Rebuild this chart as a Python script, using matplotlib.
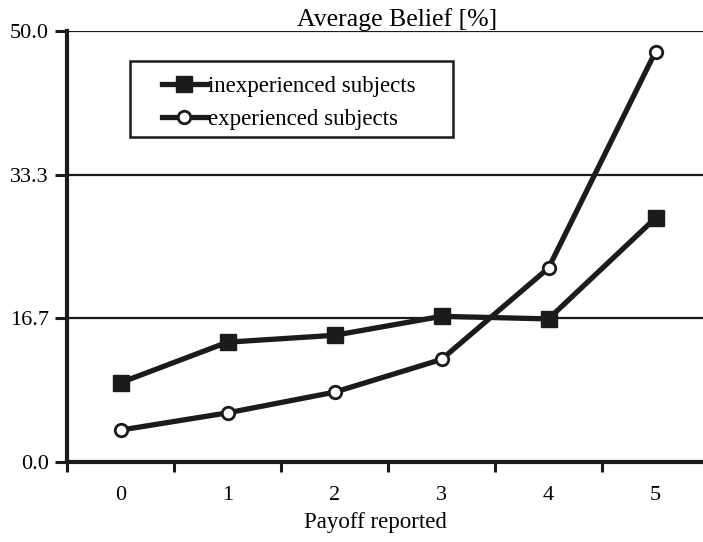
import matplotlib.pyplot as plt
from matplotlib.patches import Rectangle
from matplotlib.ticker import FixedLocator

payoffs = ["0", "1", "2", "3", "4", "5"]
inexperienced = [9.2, 13.9, 14.7, 16.9, 16.6, 28.3]
experienced = [3.7, 5.7, 8.1, 11.9, 22.5, 47.6]
y_ticks = [0.0, 50 / 3, 100 / 3, 50.0]
y_labels = ["0.0", "16.7", "33.3", "50.0"]

INK = "#1c1a1a"
W, H = 703, 542

plt.rcParams['font.family'] = ['Liberation Serif', 'DejaVu Serif']

fig = plt.figure(figsize=(W / 100, H / 100), dpi=100)
ax = fig.add_axes([67 / W, 1 - 462 / H, (709 - 67) / W, (462 - 31) / H])

x = list(range(len(payoffs)))

# horizontal grid lines
for yv in y_ticks[1:]:
    ax.axhline(yv, color=INK, lw=1.6, zorder=1)

ax.plot(x, inexperienced, color=INK, lw=3.8, marker='s', ms=11.5,
        mfc=INK, mec=INK, label="inexperienced subjects", zorder=3)
ax.plot(x, experienced, color=INK, lw=3.8, marker='o', ms=9,
        mfc='white', mec=INK, mew=2.0, label="experienced subjects", zorder=4)

ax.set_xlim(-0.5, 5.5)
ax.set_ylim(0, 50)

ax.set_xticks(x)
ax.set_xticklabels(payoffs, fontsize=16)
ax.xaxis.set_minor_locator(FixedLocator([i - 0.5 for i in range(len(payoffs) + 1)]))
ax.tick_params(axis='x', which='major', length=0, pad=17)
ax.tick_params(axis='x', which='minor', length=7, width=2.2, color=INK, direction='out')

ax.set_yticks(y_ticks)
ax.set_yticklabels(y_labels, fontsize=16)
ax.tick_params(axis='y', length=9, width=2.2, color=INK, direction='out', pad=4)

for side in ['top', 'right']:
    ax.spines[side].set_visible(False)
for side in ['left', 'bottom']:
    ax.spines[side].set_linewidth(3)
    ax.spines[side].set_color(INK)

ax.set_xlabel("Payoff reported", fontsize=16.5)
ax.xaxis.set_label_coords((375 - 67) / 642, (462 - 512) / 431)
fig.text(397 / W, 1 - 26 / H, "Average Belief [%]", fontsize=18.5,
         ha='center', va='baseline')

# legend box drawn separately so padding matches the original
ax.add_patch(Rectangle((130 / W, 1 - 137 / H), (453 - 130) / W, (137 - 61) / H,
                       transform=fig.transFigure, fc='white', ec=INK, lw=1.8,
                       clip_on=False, zorder=5))
leg = ax.legend(loc='upper left', bbox_to_anchor=(162 / W, 1 - 76 / H),
                bbox_transform=fig.transFigure, fontsize=16.5, frameon=False,
                handlelength=1.95, handletextpad=0.05, borderpad=0,
                labelspacing=0.5, borderaxespad=0)
leg.set_zorder(6)

fig.savefig("out.png", dpi=100)
